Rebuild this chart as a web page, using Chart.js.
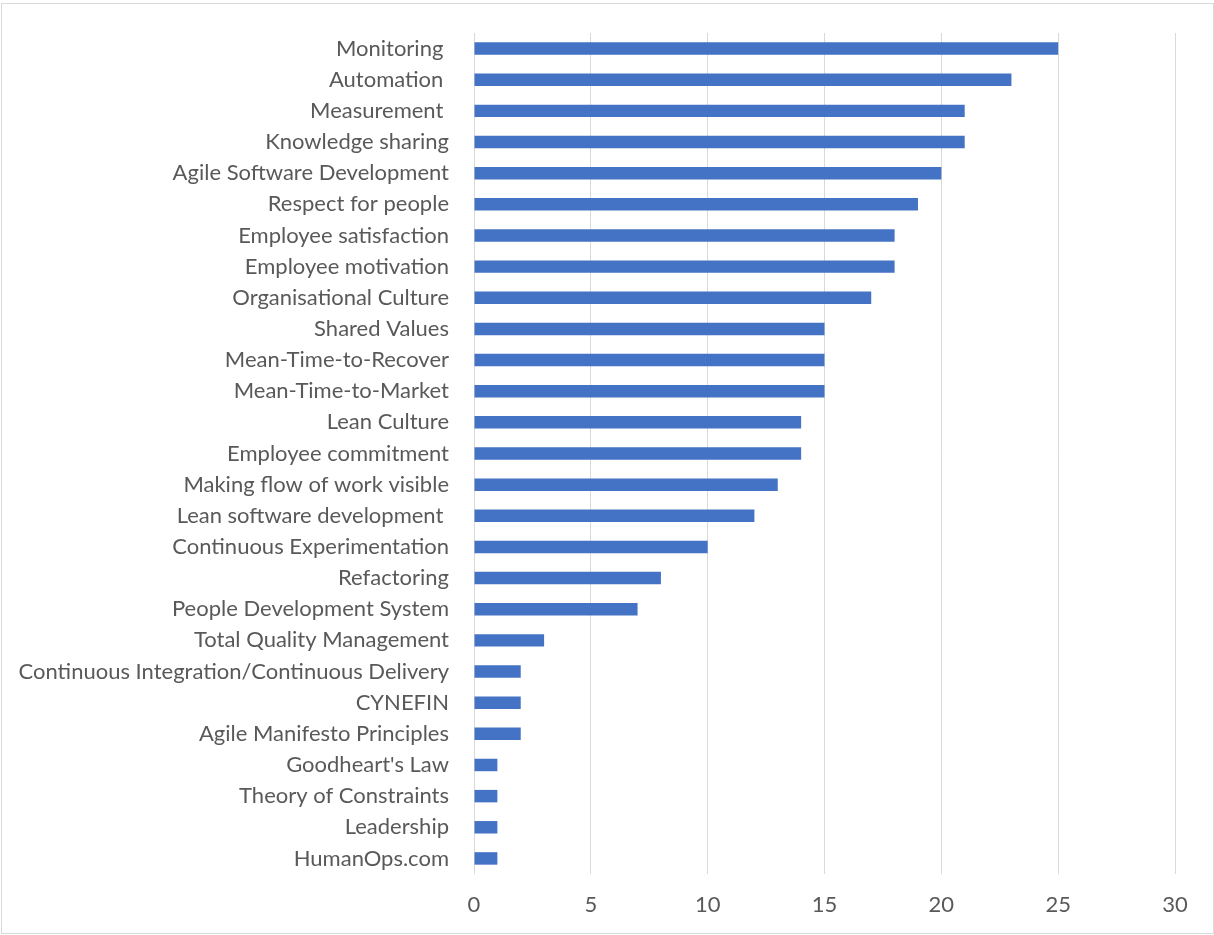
<!DOCTYPE html>
<html lang="en">
<head>
    <meta charset="UTF-8">
    <title>Concepts</title>
    <style>
        body {
            margin: 0;
            padding: 0;
            background: #fff;
        }

        .frame {
            position: absolute;
            left: 1px;
            top: 3px;
            width: 1211px;
            height: 929px;
            border: 1px solid #d9d9d9;
        }

        #wrap {
            position: absolute;
            left: 0;
            top: 0;
            width: 1214px;
            height: 935px;
        }
    </style>
</head>
<body>
    <div class="frame"></div>
    <div id="wrap">
        <canvas id="conceptChart" width="1214" height="935"></canvas>
    </div>

    <script src="https://cdn.jsdelivr.net/npm/chart.js"></script>
    <script>
        const concepts = [
            'Monitoring ', 'Automation ', 'Measurement ', 'Knowledge sharing',
            'Agile Software Development', 'Respect for people', 'Employee satisfaction',
            'Employee motivation', 'Organisational Culture', 'Shared Values',
            'Mean-Time-to-Recover', 'Mean-Time-to-Market', 'Lean Culture',
            'Employee commitment', 'Making flow of work visible', 'Lean software development ',
            'Continuous Experimentation', 'Refactoring', 'People Development System',
            'Total Quality Management', 'Continuous Integration/Continuous Delivery',
            'CYNEFIN', 'Agile Manifesto Principles', "Goodheart's Law",
            'Theory of Constraints', 'Leadership', 'HumanOps.com'
        ];
        const counts = [
            25, 23, 21, 21, 20, 19, 18, 18, 17, 15, 15, 15, 14, 14,
            13, 12, 10, 8, 7, 3, 2, 2, 2, 1, 1, 1, 1
        ];
        const xTicks = [0, 5, 10, 15, 20, 25, 30];

        const labelFont = { family: 'Lato', size: 22 };

        const ctx = document.getElementById('conceptChart').getContext('2d');
        new Chart(ctx, {
            type: 'bar',
            data: {
                labels: concepts,
                datasets: [{
                    data: counts,
                    backgroundColor: '#4472C4',
                    barPercentage: 0.8,
                    categoryPercentage: 0.5
                }]
            },
            options: {
                indexAxis: 'y',
                responsive: false,
                animation: false,
                layout: {
                    padding: { top: 33, right: 39, bottom: 0, left: 0 }
                },
                plugins: {
                    legend: { display: false },
                    tooltip: { enabled: false }
                },
                scales: {
                    x: {
                        min: 0,
                        max: 30,
                        afterBuildTicks: axis => {
                            axis.ticks = xTicks.map(v => ({ value: v }));
                        },
                        grid: { color: '#d9d9d9', lineWidth: 1, drawTicks: false },
                        border: { display: false },
                        ticks: {
                            color: '#595959',
                            font: labelFont,
                            padding: 18
                        },
                        afterFit: axis => { axis.height = 61; }
                    },
                    y: {
                        grid: { display: false },
                        border: { display: false },
                        ticks: {
                            color: '#595959',
                            font: labelFont,
                            padding: 17,
                            autoSkip: false
                        },
                        afterFit: axis => { axis.width = 474; }
                    }
                }
            }
        });
    </script>
</body>
</html>
